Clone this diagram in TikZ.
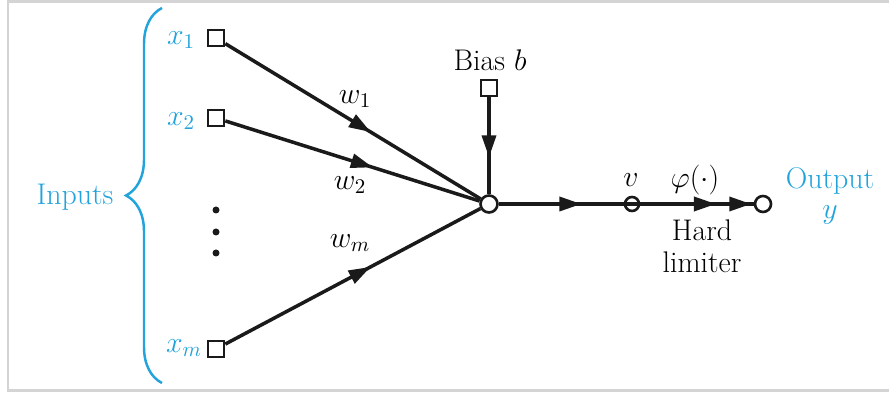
\documentclass[tikz,border=0pt]{standalone}
\usepackage{fix-cm}
\usetikzlibrary{
  arrows.meta,
  positioning,
  decorations.markings,
  decorations.pathreplacing
}
\definecolor{pcIn}{HTML}{22A3DB}
\definecolor{pcLine}{HTML}{1A1A1A}
\definecolor{pcFrame}{HTML}{D4D4D4}
\tikzset{
  >={Triangle[length=4.4mm, width=2.8mm]},
  insq/.style={draw=pcLine, line width=1.5pt, minimum size=0.32cm, inner sep=0pt, fill=white},
  junc/.style={circle, draw=pcLine, line width=1.5pt, minimum size=0.34cm, inner sep=0pt, fill=white},
  probe/.style={circle, draw=pcLine, line width=1.5pt, minimum size=0.28cm, inner sep=0pt},
  dotnode/.style={circle, fill=pcLine, minimum size=0.14cm, inner sep=0pt},
  lbl/.style={font=\fontsize{17}{20}\selectfont, inner sep=1pt, align=center},
  inlbl/.style={lbl, text=pcIn},
  wire/.style={line width=2pt, draw=pcLine},
  headat/.style={wire, postaction={decorate},
    decoration={markings, mark=at position #1 with {\arrow{>}}}},
  headtwo/.style 2 args={wire, postaction={decorate},
    decoration={markings, mark=at position #1 with {\arrow{>}},
      mark=at position #2 with {\arrow{>}}}},
  frameline/.style={draw=pcFrame, line width=0.06cm}
}

\begin{document}
\begin{tikzpicture}[x=0.02cm, y=-0.02cm]
  \useasboundingbox (0,0) rectangle (889,394);
  \draw[frameline] (892,2) -- (8,2) -- (8,391) -- (892,391);

  % inputs
  \node[insq] (x1) at (216,38) {};
  \node[insq] (x2) at (216,118) {};
  \node[insq] (xm) at (216,349) {};
  \node[inlbl] (lx1) at (181,40) {$x_1$};
  \node[inlbl] (lx2) at (181,121) {$x_2$};
  \node[inlbl] (lxm) at (184,348) {$x_m$};
  \foreach \n/\y in {d1/210, d2/232, d3/253}{\node[dotnode] (\n) at (216,\y) {};}

  \draw[pcIn, line width=1.4pt, decorate, decoration={brace, amplitude=7.2mm}] (162,383) -- (162,8);
  \node[inlbl] (inputs) at (75,197) {Inputs};

  % summing junction and bias
  \node[junc] (sum) at (489,204) {};
  \node[insq] (bias) at (489,88) {};
  \node[lbl] (lbias) at (490,60) {Bias $b$};

  \foreach \s/\p in {x1/0.57, x2/0.58, xm/0.57}{\draw[headat=\p] (\s) -- (sum);}
  \draw[headat=0.62] (bias) -- (sum);

  \node[lbl] (lw1) at (355,99) {$w_1$};
  \node[lbl] (lw2) at (350,185) {$w_2$};
  \node[lbl] (lwm) at (350,243) {$w_m$};

  % output side
  \node[probe] (v) at (632,204) {};
  \node[junc, minimum size=0.32cm] (out) at (763,204) {};
  \draw[headat=0.62] (sum) -- (v.center);
  \draw[headtwo={0.69}{0.98}] (v.center) -- (out);

  \node[lbl] (lv) at (631,180) {$v$};
  \node[lbl] (lphi) at (695,180) {$\varphi(\cdot)$};
  \node[lbl] (lhard) at (702,246) {Hard\\[-2pt]limiter};
  \node[inlbl] (lout) at (830,196) {Output\\[-3pt]$y$};
\end{tikzpicture}
\end{document}
